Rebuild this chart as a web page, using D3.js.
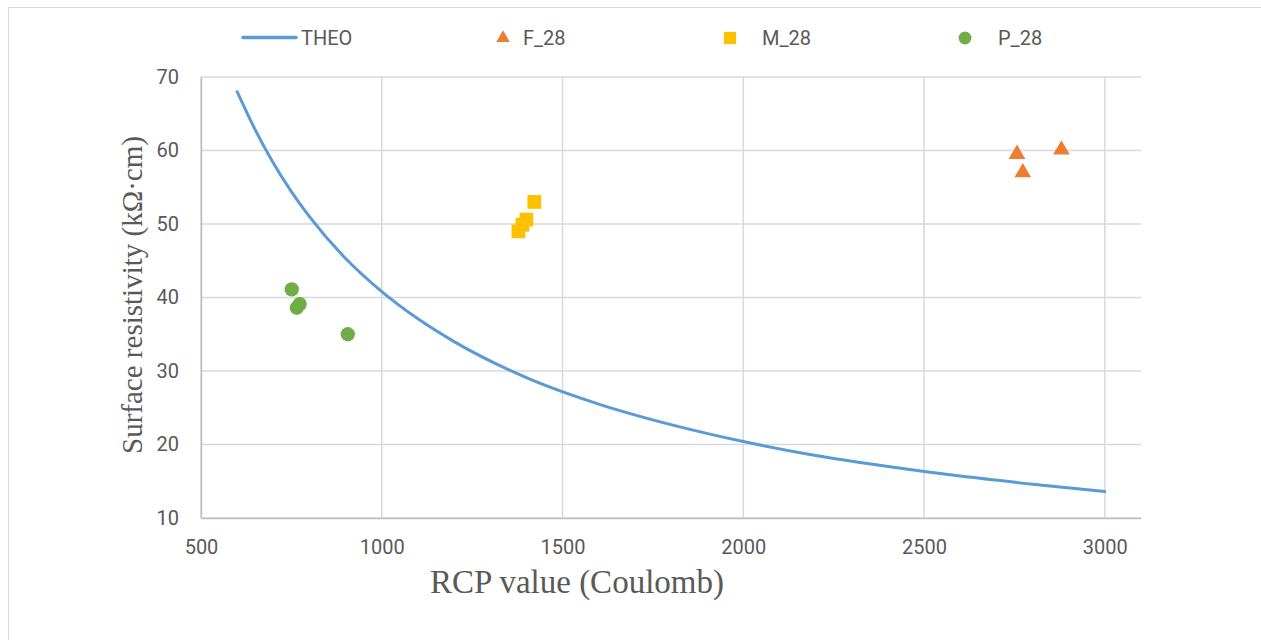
<!DOCTYPE html>
<html lang="en">
<head>
  <meta charset="utf-8">
  <title>Surface resistivity vs RCP value</title>
  <script src="https://d3js.org/d3.v7.min.js"></script>
  <style>
    body { margin: 0; background: #fff; }
    svg { display: block; }
    .tick text { font-family: "Roboto", sans-serif; font-size: 20px; fill: #595959; }
    .axis-title { font-family: "Liberation Serif", "Times New Roman", serif; fill: #595959; }
    .legend text { font-family: "Roboto", sans-serif; font-size: 20px; fill: #595959; }
  </style>
</head>
<body>
<div id="chart"></div>
<script>
  // Theoretical curve, values
  const theoX = [600, 650, 700, 750, 800, 900, 1000, 1100, 1200, 1400, 1600, 1800, 2000, 2200, 2400, 2600, 2800, 3000];
  const theoY = [68, 62.8, 58.3, 54.4, 51, 45.3, 40.8, 37.1, 34, 29.1, 25.5, 22.7, 20.4, 18.5, 17, 15.7, 14.6, 13.6];

  const f28X = [2757, 2773, 2880];
  const f28Y = [59.5, 57, 60.1];
  const m28X = [1378, 1389, 1400, 1422];
  const m28Y = [49, 49.9, 50.6, 53];
  const p28X = [751, 765, 773, 906];
  const p28Y = [41.1, 38.6, 39.1, 35];

  const xTicks = [500, 1000, 1500, 2000, 2500, 3000];
  const yTicks = [10, 20, 30, 40, 50, 60, 70];

  const colors = { THEO: "#5b9bd5", F_28: "#ed7d31", M_28: "#ffc000", P_28: "#70ad47" };

  const width = 1261, height = 640;
  const svg = d3.select("#chart").append("svg")
    .attr("width", width)
    .attr("height", height);

  // chart frame
  svg.append("rect")
    .attr("x", 8.5).attr("y", 7.5)
    .attr("width", width).attr("height", height)
    .attr("fill", "none").attr("stroke", "#d9d9d9");

  const plotL = 201, plotR = 1141, plotT = 77, plotB = 518;
  const x = d3.scaleLinear().domain([500, 3100]).range([plotL, plotR]);
  const y = d3.scaleLinear().domain([10, 70]).range([plotB, plotT]);

  // gridlines
  const grid = svg.append("g");
  grid.selectAll("line.h").data(yTicks).join("line")
    .attr("class", "h")
    .attr("x1", plotL).attr("x2", plotR)
    .attr("y1", d => y(d)).attr("y2", d => y(d))
    .attr("stroke", "#d9d9d9").attr("stroke-width", 1.5);
  grid.selectAll("line.v").data(xTicks).join("line")
    .attr("class", "v")
    .attr("y1", plotT).attr("y2", plotB)
    .attr("x1", d => x(d)).attr("x2", d => x(d))
    .attr("stroke", "#d9d9d9").attr("stroke-width", 1.5);

  // axes
  const xAxis = svg.append("g")
    .attr("transform", `translate(0,${plotB})`)
    .call(d3.axisBottom(x).tickValues(xTicks).tickFormat(d3.format("d")).tickSize(0).tickPadding(22));
  xAxis.select(".domain").attr("stroke", "#bfbfbf").attr("stroke-width", 1.5);

  const yAxis = svg.append("g")
    .attr("transform", `translate(${plotL},0)`)
    .call(d3.axisLeft(y).tickValues(yTicks).tickSize(0).tickPadding(22));
  yAxis.select(".domain").attr("stroke", "#bfbfbf").attr("stroke-width", 1.5);

  // axis titles
  svg.append("text").attr("class", "axis-title")
    .attr("x", 577).attr("y", 593)
    .attr("text-anchor", "middle")
    .style("font-size", "33px")
    .text("RCP value (Coulomb)");
  svg.append("text").attr("class", "axis-title")
    .attr("transform", `translate(142,295) rotate(-90)`)
    .attr("text-anchor", "middle")
    .style("font-size", "29px")
    .text("Surface resistivity (kΩ·cm)");

  // theoretical curve
  const theo = theoX.map((d, i) => [d, theoY[i]]);
  svg.append("path")
    .datum(theo)
    .attr("fill", "none")
    .attr("stroke", colors.THEO)
    .attr("stroke-width", 3)
    .attr("stroke-linecap", "round")
    .attr("d", d3.line().x(d => x(d[0])).y(d => y(d[1])).curve(d3.curveMonotoneX));

  // markers
  const tri = d3.symbol().type(d3.symbolTriangle).size(120);
  const sq = d3.symbol().type(d3.symbolSquare).size(190);
  const circ = d3.symbol().type(d3.symbolCircle).size(160);

  svg.append("g").selectAll("path").data(f28X.map((d, i) => [d, f28Y[i]])).join("path")
    .attr("d", tri).attr("fill", colors.F_28)
    .attr("transform", d => `translate(${x(d[0])},${y(d[1])})`);
  svg.append("g").selectAll("path").data(m28X.map((d, i) => [d, m28Y[i]])).join("path")
    .attr("d", sq).attr("fill", colors.M_28)
    .attr("transform", d => `translate(${x(d[0])},${y(d[1])})`);
  svg.append("g").selectAll("path").data(p28X.map((d, i) => [d, p28Y[i]])).join("path")
    .attr("d", circ).attr("fill", colors.P_28)
    .attr("transform", d => `translate(${x(d[0])},${y(d[1])})`);

  // legend
  const legend = svg.append("g").attr("class", "legend");
  legend.append("line")
    .attr("x1", 243).attr("x2", 296).attr("y1", 37.5).attr("y2", 37.5)
    .attr("stroke", colors.THEO).attr("stroke-width", 3.5).attr("stroke-linecap", "round");
  legend.append("text").attr("x", 301).attr("y", 45).text("THEO");

  legend.append("path").attr("d", d3.symbol().type(d3.symbolTriangle).size(80))
    .attr("fill", colors.F_28).attr("transform", "translate(503,38)");
  legend.append("text").attr("x", 523).attr("y", 45).text("F_28");

  legend.append("path").attr("d", d3.symbol().type(d3.symbolSquare).size(150))
    .attr("fill", colors.M_28).attr("transform", "translate(730,38)");
  legend.append("text").attr("x", 762).attr("y", 45).text("M_28");

  legend.append("path").attr("d", d3.symbol().type(d3.symbolCircle).size(130))
    .attr("fill", colors.P_28).attr("transform", "translate(965,38)");
  legend.append("text").attr("x", 998).attr("y", 45).text("P_28");
</script>
</body>
</html>
